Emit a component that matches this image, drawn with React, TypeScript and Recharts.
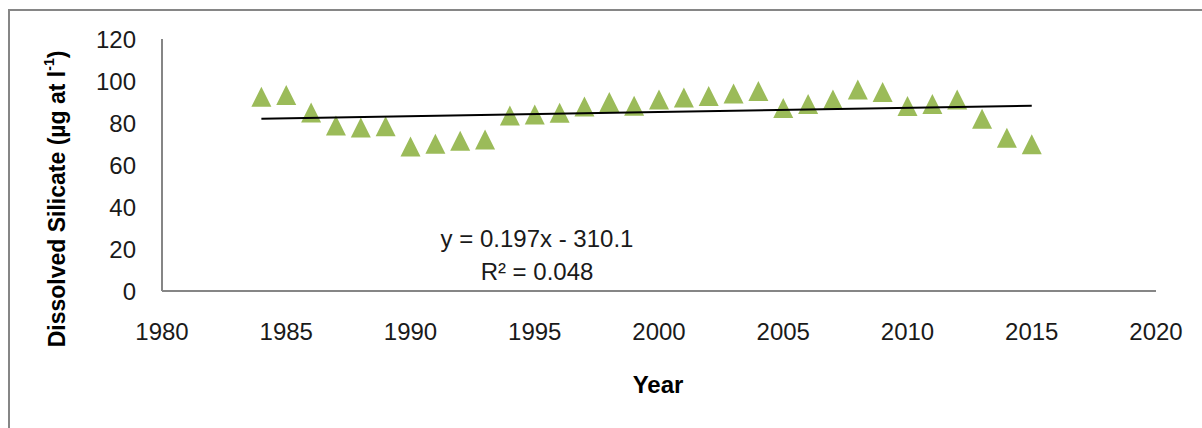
import { ScatterChart, Scatter, XAxis, YAxis } from "recharts";

const YEARS = [
  1984, 1985, 1986, 1987, 1988, 1989, 1990, 1991, 1992, 1993, 1994, 1995, 1996, 1997, 1998, 1999,
  2000, 2001, 2002, 2003, 2004, 2005, 2006, 2007, 2008, 2009, 2010, 2011, 2012, 2013, 2014, 2015,
];
const SILICATE = [
  92.5, 93.3, 85, 78.8, 77.9, 78.5, 68.8, 70.1, 71.6, 72.2, 83.6, 84.1, 84.9, 87.9, 90, 88.2,
  91.2, 92.1, 92.9, 94, 95.2, 87.1, 89, 91.2, 96, 94.8, 88.1, 89.1, 91.2, 82, 73, 69.9,
];
const X_TICKS = [1980, 1985, 1990, 1995, 2000, 2005, 2010, 2015, 2020];
const Y_TICKS = [0, 20, 40, 60, 80, 100, 120];
const EQUATION = "y = 0.197x - 310.1";
const R_SQUARED = "R² = 0.048";

const FONT = '"Liberation Sans", Arial, sans-serif';
const AXIS_GREY = "#868686";
const GREEN = "#9BBB59";

const points = YEARS.map((year, i) => ({ year, value: SILICATE[i] }));

// linear trendline (least squares) through the points
function linearTrend(xs: number[], ys: number[]) {
  const n = xs.length;
  const mx = xs.reduce((s, v) => s + v, 0) / n;
  const my = ys.reduce((s, v) => s + v, 0) / n;
  let num = 0;
  let den = 0;
  for (let i = 0; i < n; i++) {
    num += (xs[i] - mx) * (ys[i] - my);
    den += (xs[i] - mx) ** 2;
  }
  const slope = num / den;
  const b = my - slope * mx;
  const x0 = xs[0];
  const x1 = xs[n - 1];
  return [
    { year: x0, value: slope * x0 + b },
    { year: x1, value: slope * x1 + b },
  ];
}

const trend = linearTrend(YEARS, SILICATE);

const Triangle = (props: any) => {
  const { cx, cy } = props;
  if (cx == null || cy == null) return <g />;
  return <polygon points={`${cx},${cy - 10} ${cx - 10},${cy + 10} ${cx + 10},${cy + 10}`} fill={GREEN} />;
};

const NoShape = () => <g />;

const YLabel = () => (
  <text
    x={57}
    y={199}
    transform="rotate(-90 57 199)"
    textAnchor="middle"
    dominantBaseline="central"
    fontFamily={FONT}
    fontWeight="bold"
    fontSize={23}
    fill="#000"
  >
    Dissolved Silicate (µg at l
    <tspan dy={-8} fontSize={14}>-1</tspan>
    <tspan dy={8}>)</tspan>
  </text>
);

const XLabel = () => (
  <text x={658} y={393} textAnchor="middle" fontFamily={FONT} fontWeight="bold" fontSize={24} fill="#000">
    Year
  </text>
);

export default function App() {
  return (
    <div style={{ position: "absolute", left: 0, top: 0, width: 1202, height: 428, overflow: "hidden", background: "#fff" }}>
      <div
        style={{
          position: "absolute",
          left: 8,
          top: 9,
          width: 1300,
          height: 500,
          borderTop: `2px solid ${AXIS_GREY}`,
          borderLeft: `2px solid ${AXIS_GREY}`,
        }}
      />
      <div style={{ position: "absolute", left: 0, top: 0 }}>
        <ScatterChart width={1202} height={428} margin={{ top: 39, right: 46, bottom: 37, left: 102 }}>
          <XAxis
            type="number"
            dataKey="year"
            domain={[1980, 2020]}
            ticks={X_TICKS}
            allowDataOverflow
            tickLine={false}
            tickSize={0}
            tickMargin={32}
            height={100}
            axisLine={{ stroke: AXIS_GREY, strokeWidth: 2 }}
            tick={{ fontFamily: FONT, fontSize: 24, fill: "#1a1a1a" }}
            label={{ content: XLabel }}
          />
          <YAxis
            type="number"
            dataKey="value"
            domain={[0, 120]}
            ticks={Y_TICKS}
            allowDataOverflow
            tickLine={false}
            tickSize={0}
            tickMargin={26}
            width={60}
            axisLine={{ stroke: AXIS_GREY, strokeWidth: 2 }}
            tick={{ fontFamily: FONT, fontSize: 24, fill: "#1a1a1a" }}
            label={{ content: YLabel }}
          />
          <Scatter data={points} shape={Triangle} isAnimationActive={false} />
          <Scatter
            data={trend}
            shape={NoShape}
            line={{ stroke: "#000", strokeWidth: 2 }}
            isAnimationActive={false}
          />
        </ScatterChart>
      </div>
      <svg width={1202} height={428} style={{ position: "absolute", left: 0, top: 0, pointerEvents: "none" }}>
        <text x={537} y={247} textAnchor="middle" fontFamily={FONT} fontSize={24} fill="#1a1a1a">
          {EQUATION}
        </text>
        <text x={537} y={280} textAnchor="middle" fontFamily={FONT} fontSize={24} fill="#1a1a1a">
          {R_SQUARED}
        </text>
      </svg>
    </div>
  );
}
